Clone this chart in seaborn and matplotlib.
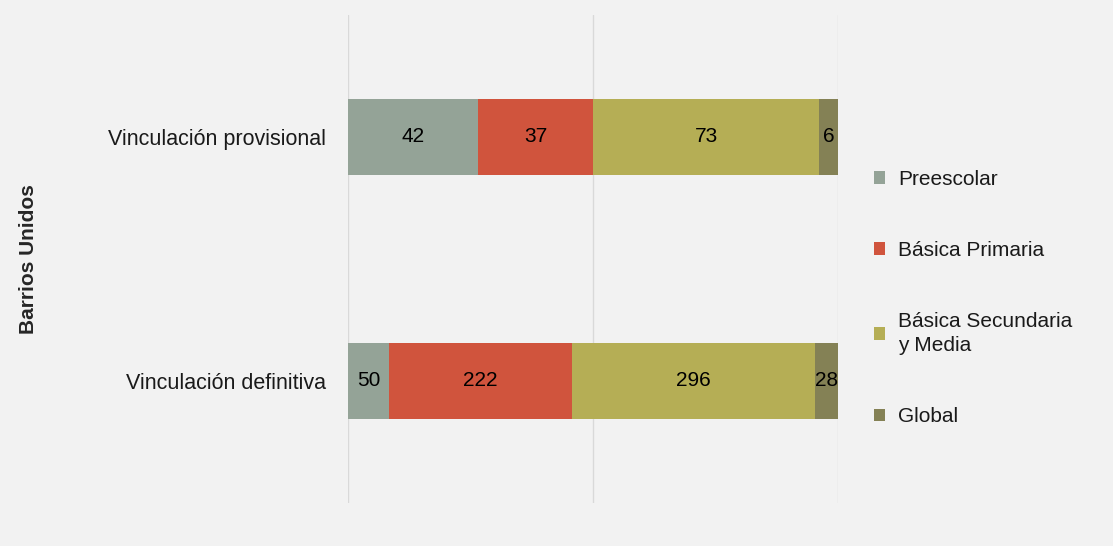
import pandas as pd
import matplotlib.pyplot as plt
import seaborn as sns
from matplotlib.patches import Patch

categorias = ['Vinculación provisional', 'Vinculación definitiva']
niveles = ['Preescolar', 'Básica Primaria', 'Básica Secundaria\ny Media', 'Global']
preescolar = [42, 50]
basica_primaria = [37, 222]
basica_secundaria = [73, 296]
global_ = [6, 28]
colores = ['#94a397', '#d0543d', '#b5ae55', '#848155']

data = pd.DataFrame({
    niveles[0]: preescolar,
    niveles[1]: basica_primaria,
    niveles[2]: basica_secundaria,
    niveles[3]: global_,
}, index=categorias)

pct = data.div(data.sum(axis=1), axis=0)
acum = pct.cumsum(axis=1)

sns.set_style('white')
plt.rcParams['font.family'] = ['Liberation Sans', 'DejaVu Sans']
fig = plt.figure(figsize=(11.13, 5.46), dpi=100, facecolor='#f2f2f2')
ax = fig.add_axes([0.3127, 0.0788, 0.4403, 0.8938])
ax.set_facecolor('#f2f2f2')

# barras apiladas: se dibuja el acumulado de mayor a menor
for i in reversed(range(len(niveles))):
    col = niveles[i]
    sns.barplot(x=acum[col].values, y=categorias, orient='h', color=colores[i],
                width=0.31, saturation=1, linewidth=0, ax=ax, zorder=2)

for i, col in enumerate(niveles):
    for j, cat in enumerate(categorias):
        centro = acum[col].iloc[j] - pct[col].iloc[j] / 2
        ax.text(centro, j, str(data[col].iloc[j]), ha='center', va='center',
                fontsize=15, color='black', zorder=3)

ax.set_xlim(0, 1)
ax.set_ylim(1.5, -0.5)
ax.set_xticks([0, 0.5, 1])
ax.set_xticklabels([])
ax.tick_params(axis='x', length=0)
ax.tick_params(axis='y', length=0, labelsize=15.5, pad=16, labelcolor='#1a1a1a')
ax.grid(axis='x', color='#d9d9d9', linewidth=1, zorder=0)
ax.set_axisbelow(True)
for s in ax.spines.values():
    s.set_visible(False)
ax.set_xlabel('')
ax.set_ylabel('Barrios Unidos', fontsize=15, fontweight='bold', labelpad=50)

handles = [Patch(facecolor=c, edgecolor='none') for c in colores]
leg = ax.legend(handles, niveles, loc='center left', bbox_to_anchor=(1.035, 0.42),
                frameon=False, fontsize=15, handlelength=0.55, handleheight=0.55,
                handletextpad=0.6, labelspacing=2.5, labelcolor='#1a1a1a')
for t in leg.get_texts():
    t.set_linespacing(1.35)

fig.savefig('out.png', dpi=100, facecolor='#f2f2f2')
